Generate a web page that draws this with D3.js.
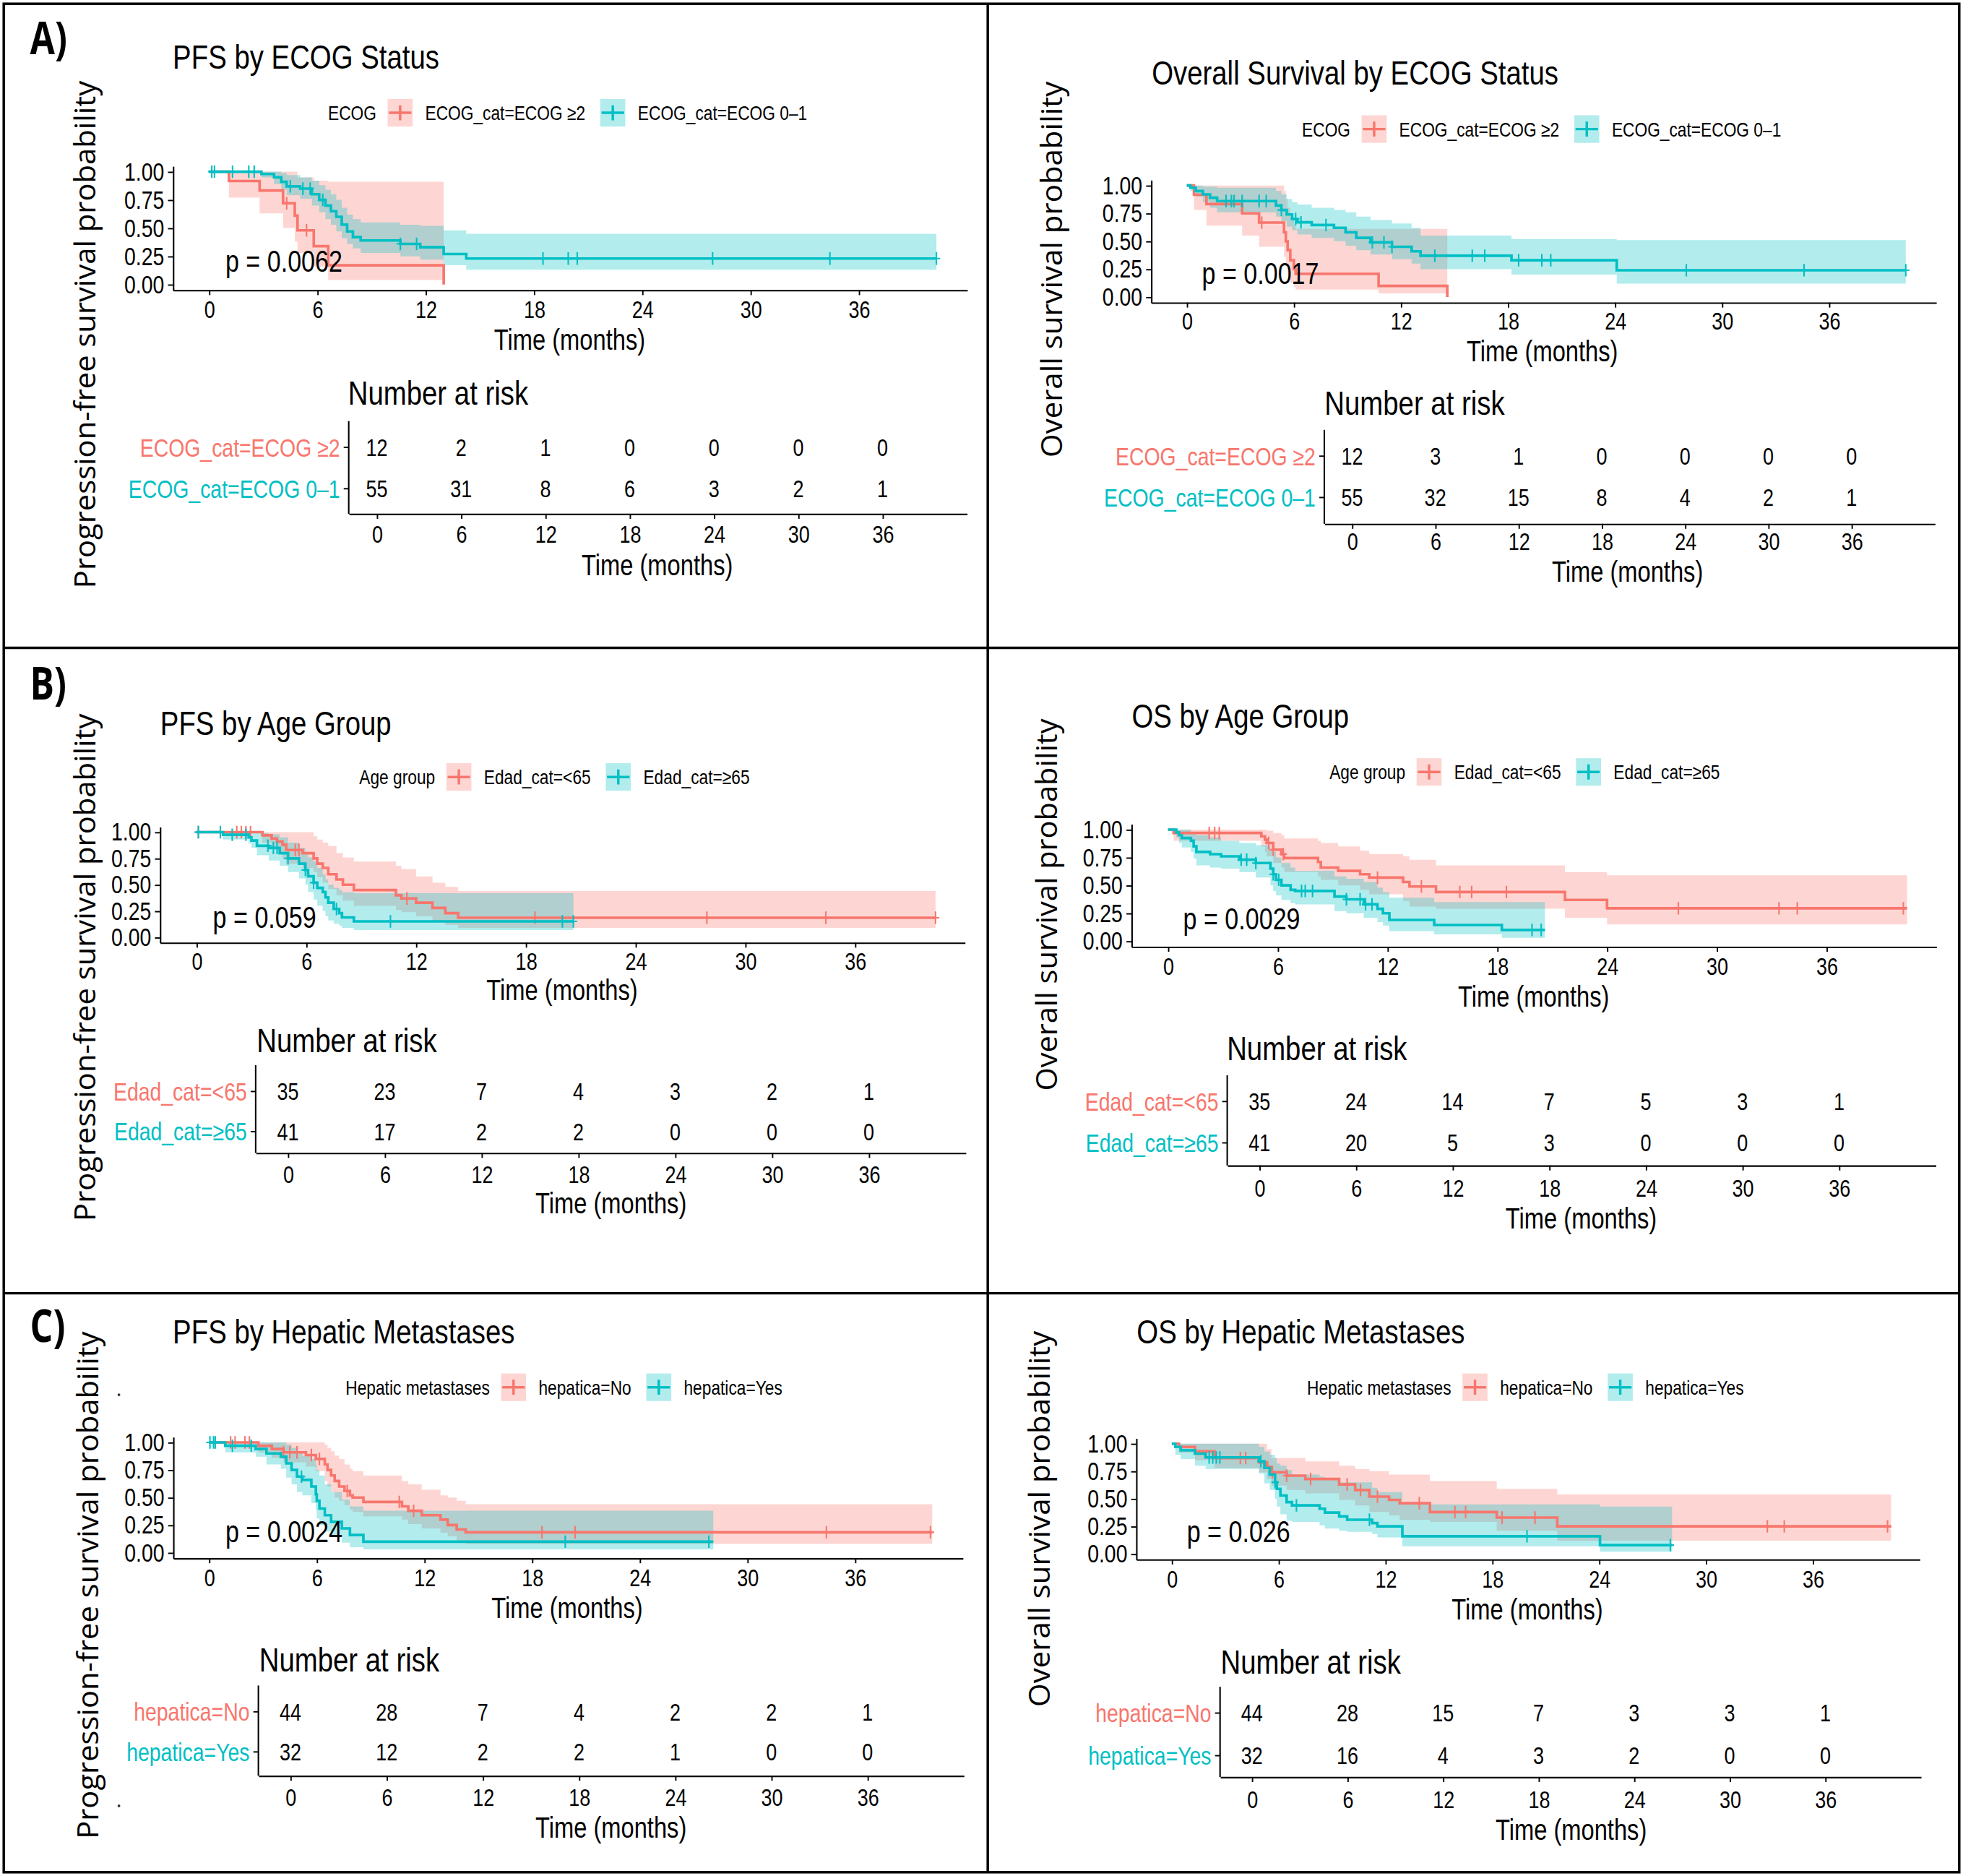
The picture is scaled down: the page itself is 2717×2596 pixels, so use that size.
<!DOCTYPE html>
<html>
<head>
<meta charset="utf-8">
<script src="https://cdn.jsdelivr.net/npm/d3@7"></script>
<style>
  body { margin: 0; background: #fff; }
  text { font-family: "Liberation Sans", Arial, sans-serif; fill: #000; }
</style>
</head>
<body>
<script>
// ---- data: each row is [time, survival, lower CI, upper CI] ----
const pfsEcogHi = [[0,1,1,1],[1.1,0.917,0.77,1],[2.8,0.833,0.63,1],[4.1,0.72,0.50,1],[4.75,0.61,0.38,1],
  [4.9,0.48,0.28,0.95],[5.8,0.34,0.16,0.92],[6.6,0.17,0.04,0.91],[13.0,0,null,null]];
const pfsEcogHiCens = [4.3, 5.4];
const pfsEcogLo = [[0,1,1,1],[2.9,0.98,0.95,1],[3.6,0.95,0.89,1],[4.0,0.91,0.84,0.99],[4.3,0.87,0.79,0.97],
  [5.05,0.85,0.76,0.95],[5.7,0.80,0.70,0.92],[6.1,0.75,0.64,0.88],[6.45,0.70,0.58,0.84],[6.75,0.65,0.53,0.80],
  [7.05,0.60,0.47,0.75],[7.35,0.53,0.41,0.68],[7.65,0.47,0.36,0.62],[7.97,0.42,0.32,0.58],[8.4,0.39,0.28,0.55],
  [10.6,0.36,0.25,0.53],[11.7,0.33,0.22,0.52],[13.0,0.27,0.17,0.48],[14.25,0.23,0.13,0.45],[40.3,0.23,0.13,0.45]];
const pfsEcogLoCens = [0.15,0.3,1.3,2.2,2.5,4.5,5.2,5.6,6.3,10.6,11.5,18.5,19.9,20.4,27.9,34.4,40.3];

const osEcogHi = [[0,1,1,1],[0.4,0.917,0.78,1],[1.1,0.833,0.64,1],[3.1,0.75,0.55,1],[4.05,0.667,0.45,1],
  [5.45,0.58,0.36,0.95],[5.55,0.5,0.28,0.88],[5.65,0.42,0.2,0.8],[5.8,0.33,0.13,0.72],[6.0,0.25,0.09,0.65],
  [6.1,0.207,0.066,0.61],[10.75,0.10,0.033,0.61],[14.6,0,null,null]];
const osEcogHiCens = [4.2];
const osEcogLo = [[0,1,1,1],[0.2,0.98,0.95,1],[0.5,0.95,0.9,1],[0.9,0.92,0.85,0.99],[1.3,0.89,0.80,0.99],
  [1.7,0.86,0.76,0.98],[5.0,0.82,0.72,0.95],[5.3,0.78,0.68,0.92],[5.6,0.74,0.63,0.88],[5.9,0.70,0.60,0.85],
  [6.2,0.67,0.56,0.83],[7.0,0.645,0.53,0.80],[8.25,0.62,0.50,0.78],[8.9,0.58,0.46,0.76],[9.5,0.53,0.42,0.72],
  [10.3,0.49,0.38,0.69],[11.5,0.45,0.34,0.66],[12.6,0.41,0.30,0.62],[13.1,0.37,0.25,0.55],[18.2,0.33,0.20,0.52],
  [24.1,0.24,0.12,0.51],[40.3,0.24,0.12,0.51]];
const osEcogLoCens = [2.2,2.5,2.65,3.1,4.05,4.45,5.3,6.1,6.4,7.8,10.4,11.05,11.5,13.9,16.0,16.7,18.6,19.9,20.4,28.0,34.6,40.3];

const pfsAgeLo = [[0,1,1,1],[3.6,0.97,0.9,1],[4.1,0.94,0.85,1],[4.4,0.91,0.8,1],[4.7,0.88,0.74,1],
  [4.9,0.83,0.7,1],[5.8,0.80,0.66,1],[6.4,0.75,0.62,0.96],[6.6,0.70,0.57,0.93],[6.9,0.66,0.52,0.9],
  [7.2,0.60,0.46,0.87],[7.65,0.55,0.40,0.80],[8.0,0.50,0.35,0.76],[8.6,0.45,0.30,0.72],[10.9,0.40,0.26,0.68],
  [11.2,0.37,0.24,0.65],[12.0,0.33,0.20,0.58],[12.9,0.28,0.15,0.52],[13.6,0.23,0.12,0.48],[14.3,0.186,0.09,0.44],
  [40.4,0.186,0.09,0.44]];
const pfsAgeLoCens = [0.1,2.2,2.45,2.7,2.95,5.4,5.6,11.5,18.5,27.9,34.4,40.4];
const pfsAgeHi = [[0,1,1,1],[1.45,0.975,0.93,1],[2.85,0.95,0.89,1],[3.0,0.92,0.85,1],[3.3,0.87,0.78,0.99],
  [3.95,0.85,0.73,0.98],[4.55,0.80,0.68,0.95],[5.0,0.75,0.62,0.9],[5.6,0.70,0.56,0.85],[5.95,0.64,0.50,0.80],
  [6.1,0.58,0.43,0.76],[6.4,0.52,0.36,0.72],[6.6,0.47,0.30,0.66],[6.9,0.43,0.25,0.60],[7.05,0.38,0.20,0.55],
  [7.2,0.33,0.16,0.50],[7.5,0.27,0.13,0.47],[7.8,0.23,0.11,0.45],[7.95,0.19,0.09,0.43],[8.6,0.152,0.07,0.42],
  [20.6,0.152,0.07,0.42]];
const pfsAgeHiCens = [0.1,1.3,1.95,2.7,3.9,4.2,4.4,5.0,5.95,6.4,7.65,10.6,20.0,20.6];

const osAgeLo = [[0,1,1,1],[0.3,0.97,0.9,1],[5.1,0.94,0.85,1],[5.3,0.91,0.8,1],[5.4,0.88,0.76,0.99],
  [5.75,0.82,0.70,0.97],[6.2,0.78,0.66,0.95],[6.35,0.745,0.62,0.92],[8.2,0.71,0.58,0.90],[8.35,0.66,0.55,0.88],
  [9.3,0.63,0.50,0.85],[10.5,0.60,0.46,0.81],[11.0,0.57,0.42,0.78],[12.85,0.53,0.36,0.76],[13.2,0.49,0.31,0.73],
  [14.65,0.44,0.29,0.68],[21.7,0.37,0.21,0.62],[24.0,0.295,0.15,0.59],[40.4,0.295,0.15,0.59]];
const osAgeLoCens = [2.25,2.55,2.8,5.5,5.75,6.3,11.45,13.85,15.95,16.6,18.5,27.9,33.4,34.4,40.2];
const osAgeHi = [[0,1,1,1],[0.45,0.975,0.93,1],[0.6,0.95,0.88,1],[0.75,0.925,0.84,1],[1.25,0.9,0.8,0.98],
  [1.4,0.85,0.74,0.96],[1.55,0.8,0.68,0.95],[2.3,0.78,0.66,0.93],[2.9,0.76,0.65,0.90],[3.9,0.73,0.62,0.88],
  [4.8,0.70,0.57,0.86],[5.6,0.65,0.50,0.82],[5.75,0.60,0.45,0.80],[5.9,0.55,0.41,0.75],[6.2,0.50,0.37,0.70],
  [6.7,0.46,0.34,0.66],[6.95,0.45,0.33,0.63],[9.1,0.40,0.27,0.58],[9.75,0.375,0.25,0.56],[10.7,0.33,0.21,0.53],
  [11.45,0.29,0.17,0.48],[11.75,0.25,0.14,0.44],[12.1,0.19,0.09,0.39],[14.55,0.145,0.06,0.35],[18.25,0.10,0.03,0.35],
  [20.6,0.10,0.03,0.35]];
const osAgeHiCens = [4.0,4.3,4.8,5.75,6.05,7.3,7.5,7.9,9.75,10.5,10.8,11.15,19.9,20.4];

const pfsHepNo = [[0,1,1,1],[2.75,0.97,0.91,1],[3.5,0.94,0.86,1],[4.15,0.91,0.82,1],[5.4,0.885,0.78,1],
  [5.95,0.85,0.74,1],[6.45,0.80,0.65,0.98],[6.6,0.75,0.60,0.95],[6.8,0.70,0.55,0.92],[7.0,0.65,0.50,0.88],
  [7.25,0.60,0.47,0.85],[7.55,0.56,0.43,0.80],[7.85,0.52,0.39,0.76],[8.0,0.50,0.37,0.74],[8.6,0.46,0.33,0.70],
  [10.75,0.42,0.30,0.65],[11.1,0.38,0.26,0.62],[11.85,0.34,0.22,0.57],[12.9,0.30,0.18,0.52],[13.3,0.25,0.15,0.50],
  [13.8,0.21,0.11,0.47],[14.3,0.185,0.08,0.44],[40.3,0.185,0.08,0.44]];
const pfsHepNoCens = [1.2,1.45,2.0,2.25,4.15,4.5,4.9,5.7,6.15,7.7,10.6,11.4,18.55,20.4,34.4,40.2];
const pfsHepYes = [[0,1,1,1],[0.9,0.97,0.91,1],[2.6,0.94,0.87,1],[3.2,0.90,0.80,1],[4.0,0.87,0.76,1],
  [4.3,0.81,0.68,0.98],[4.6,0.75,0.62,0.95],[4.9,0.69,0.55,0.92],[5.2,0.66,0.52,0.88],[5.7,0.60,0.45,0.85],
  [5.95,0.53,0.38,0.80],[6.0,0.47,0.31,0.75],[6.15,0.40,0.25,0.70],[6.45,0.34,0.19,0.62],[6.8,0.28,0.14,0.55],
  [7.4,0.22,0.09,0.48],[7.85,0.16,0.05,0.42],[8.6,0.10,0.03,0.38],[28.1,0.10,0.03,0.38]];
const pfsHepYesCens = [0.05,0.25,0.35,1.3,2.35,5.15,19.85,27.85];

const osHepNo = [[0,1,1,1],[0.4,0.97,0.92,1],[1.3,0.93,0.85,1],[2.4,0.87,0.78,1],[4.9,0.83,0.74,1],
  [5.35,0.79,0.68,0.95],[5.6,0.74,0.62,0.87],[6.45,0.71,0.58,0.87],[7.5,0.68,0.55,0.84],[9.4,0.63,0.49,0.80],
  [10.3,0.58,0.44,0.77],[11.1,0.52,0.38,0.75],[12.2,0.49,0.35,0.72],[12.8,0.46,0.31,0.72],[14.5,0.38,0.29,0.66],
  [18.25,0.33,0.21,0.59],[21.65,0.25,0.12,0.54],[40.4,0.25,0.12,0.54]];
const osHepNoCens = [3.85,4.15,5.65,6.45,7.8,9.85,10.6,11.55,13.9,15.9,16.5,18.55,20.4,33.45,34.4,40.2];
const osHepYes = [[0,1,1,1],[0.2,0.97,0.9,1],[0.5,0.94,0.86,1],[1.3,0.91,0.80,1],[1.9,0.875,0.77,1],
  [4.9,0.84,0.73,0.97],[5.2,0.78,0.64,0.93],[5.5,0.72,0.58,0.90],[5.8,0.65,0.50,0.87],[5.9,0.59,0.43,0.82],
  [6.1,0.53,0.36,0.80],[6.45,0.47,0.30,0.76],[6.75,0.44,0.29,0.72],[8.3,0.41,0.26,0.70],[8.6,0.375,0.23,0.68],
  [9.4,0.34,0.21,0.65],[9.85,0.31,0.20,0.65],[11.25,0.28,0.18,0.60],[11.55,0.25,0.15,0.56],[12.95,0.16,0.07,0.45],
  [24.05,0.08,0.02,0.43],[28.1,0.08,0.02,0.43]];
const osHepYesCens = [2.1,2.3,2.5,2.7,5.0,5.8,7.0,11.1,19.95,28.0];

// number at risk at 0,6,...,36 months
const riskTimes = [0, 6, 12, 18, 24, 30, 36];
const riskPfsEcog = [[12,2,1,0,0,0,0],[55,31,8,6,3,2,1]];
const riskOsEcog  = [[12,3,1,0,0,0,0],[55,32,15,8,4,2,1]];
const riskPfsAge  = [[35,23,7,4,3,2,1],[41,17,2,2,0,0,0]];
const riskOsAge   = [[35,24,14,7,5,3,1],[41,20,5,3,0,0,0]];
const riskPfsHep  = [[44,28,7,4,2,2,1],[32,12,2,2,1,0,0]];
const riskOsHep   = [[44,28,15,7,3,3,1],[32,16,4,3,2,0,0]];

const xTicks = [0, 6, 12, 18, 24, 30, 36];
const yTicks = [0, 0.25, 0.5, 0.75, 1];
const groupsEcog = ["ECOG_cat=ECOG \u22652", "ECOG_cat=ECOG 0\u20131"];
const groupsAge = ["Edad_cat=<65", "Edad_cat=\u226565"];
const groupsHep = ["hepatica=No", "hepatica=Yes"];
const colors = ["#F8766D", "#00BFC4"];

const panels = [
  {title: "PFS by ECOG Status", legendTitle: "ECOG", groups: groupsEcog, curves: [pfsEcogHi, pfsEcogLo],
   cens: [pfsEcogHiCens, pfsEcogLoCens], risk: riskPfsEcog, p: "p = 0.0062", ylab: "Progression-free survival probability"},
  {title: "Overall Survival by ECOG Status", legendTitle: "ECOG", groups: groupsEcog, curves: [osEcogHi, osEcogLo],
   cens: [osEcogHiCens, osEcogLoCens], risk: riskOsEcog, p: "p = 0.0017", ylab: "Overall survival probability"},
  {title: "PFS by Age Group", legendTitle: "Age group", groups: groupsAge, curves: [pfsAgeLo, pfsAgeHi],
   cens: [pfsAgeLoCens, pfsAgeHiCens], risk: riskPfsAge, p: "p = 0.059", ylab: "Progression-free survival probability"},
  {title: "OS by Age Group", legendTitle: "Age group", groups: groupsAge, curves: [osAgeLo, osAgeHi],
   cens: [osAgeLoCens, osAgeHiCens], risk: riskOsAge, p: "p = 0.0029", ylab: "Overall survival probability"},
  {title: "PFS by Hepatic Metastases", legendTitle: "Hepatic metastases", groups: groupsHep, curves: [pfsHepNo, pfsHepYes],
   cens: [pfsHepNoCens, pfsHepYesCens], risk: riskPfsHep, p: "p = 0.0024", ylab: "Progression-free survival probability"},
  {title: "OS by Hepatic Metastases", legendTitle: "Hepatic metastases", groups: groupsHep, curves: [osHepNo, osHepYes],
   cens: [osHepNoCens, osHepYesCens], risk: riskOsHep, p: "p = 0.026", ylab: "Overall survival probability"}
];

// ---- layout (viewBox units) ----
const layouts = [
  {tx:138, ty:45, lx:262, ly:90, yx:68, yy:267, yl:405, p0:167, p36:686, y1:137, y0:227, px:180, py:208, tly:247, xlx:455, xly:271,
   rtx:278, rty:313, r0:301, r36:705, ra:357, rb:390, rax:410, rtly:426, rxlx:525, rxly:451},
  {tx:920, ty:58, lx:1040, ly:103, yx:840, yy:215, yl:300, p0:948, p36:1461, y1:148, y0:237, px:960, py:218, tly:256, xlx:1232, xly:280,
   rtx:1058, rty:321, r0:1080, r36:1479, ra:364, rb:397, rax:418, rtly:432, rxlx:1300, rxly:456},
  {tx:128, ty:577, lx:287, ly:620, yx:68, yy:772, yl:405, p0:157, p36:683, y1:664, y0:748, px:170, py:732, tly:767, xlx:449, xly:790,
   rtx:205, rty:830, r0:230, r36:694, ra:871, rb:903, rax:920, rtly:937, rxlx:488, rxly:960},
  {tx:904, ty:571, lx:1062, ly:616, yx:836, yy:722, yl:297, p0:933, p36:1459, y1:662, y0:751, px:945, py:733, tly:771, xlx:1225, xly:795,
   rtx:980, rty:836, r0:1006, r36:1469, ra:879, rb:912, rax:930, rtly:948, rxlx:1263, rxly:972},
  {tx:138, ty:1062, lx:276, ly:1107, yx:70, yy:1265, yl:405, p0:167, p36:683, y1:1151, y0:1239, px:180, py:1222, tly:1259, xlx:453, xly:1283,
   rtx:207, rty:1324, r0:232, r36:693, ra:1366, rb:1398, rax:1417, rtly:1434, rxlx:488, rxly:1458},
  {tx:908, ty:1062, lx:1044, ly:1107, yx:830, yy:1212, yl:300, p0:936, p36:1448, y1:1152, y0:1240, px:948, py:1222, tly:1260, xlx:1220, xly:1284,
   rtx:975, rty:1326, r0:1000, r36:1458, ra:1367, rb:1401, rax:1418, rtly:1436, rxlx:1255, rxly:1460}
];

const W = 1568, H = 1497;
const NARROW = 0.82;   // Arial Narrow look from a regular sans
const svg = d3.select("body").append("svg")
  .attr("width", 2717).attr("height", 2596)
  .attr("viewBox", `0 0 ${W} ${H}`)
  .attr("preserveAspectRatio", "none");
svg.append("rect").attr("width", W).attr("height", H).attr("fill", "#fff");

// narrow text: squeezed by a transform, returns its width
function label(g, x, y, size, txt, anchor = "start", fill = "#000") {
  const t = g.append("text")
    .attr("transform", `translate(${x},${y}) scale(${NARROW},1)`)
    .attr("dy", "0.36em").attr("font-size", size).attr("text-anchor", anchor)
    .style("fill", fill).text(txt);
  return t.node().getComputedTextLength() * NARROW;
}

// frame
const frame = svg.append("g").attr("stroke", "#000").attr("stroke-width", 2).attr("fill", "none");
frame.append("rect").attr("x", 3).attr("y", 3).attr("width", 1562).attr("height", 1491);
frame.append("line").attr("x1", 789).attr("x2", 789).attr("y1", 3).attr("y2", 1494);
frame.append("line").attr("x1", 3).attr("x2", 1565).attr("y1", 517).attr("y2", 517);
frame.append("line").attr("x1", 3).attr("x2", 1565).attr("y1", 1032).attr("y2", 1032);

// panel letters
[["A)", 30], ["B)", 545], ["C)", 1058]].forEach(([s, y]) => {
  svg.append("text").attr("transform", `translate(24,${y}) scale(0.8,1)`).attr("dy", "0.36em")
    .style("font-family", "'Open Sans', sans-serif").attr("font-weight", 700)
    .attr("font-size", 36).text(s);
});
// stray dots of the original figure
[[95, 1113], [95, 1441]].forEach(([cx, cy]) => {
  svg.append("circle").attr("cx", cx).attr("cy", cy).attr("r", 1.1).attr("fill", "#333");
});

function survAt(rows, t) {
  let s = rows[0][1];
  rows.forEach(r => { if (r[0] <= t) s = r[1]; });
  return s;
}

function styleAxis(g, size, left) {
  g.select(".domain").attr("stroke", "#000").attr("stroke-width", 1.2);
  g.selectAll(".tick line").attr("stroke", "#000").attr("stroke-width", 1.1);
  g.selectAll(".tick text").attr("font-size", size).attr("fill", "#000")
    .style("font-family", "'Liberation Sans', Arial, sans-serif");
  if (left) {
    g.selectAll(".tick text").attr("x", -7 / NARROW).attr("transform", `scale(${NARROW},1)`);
  } else {
    g.selectAll(".tick text").attr("transform", `scale(${NARROW},1)`);
  }
}

function drawPanel(D, L) {
  const g = svg.append("g");

  label(g, L.tx, L.ty, 27, D.title);

  // legend
  let cx = L.lx;
  cx += label(g, cx, L.ly, 16, D.legendTitle) + 9;
  D.groups.forEach((name, i) => {
    g.append("rect").attr("x", cx).attr("y", L.ly - 11).attr("width", 20).attr("height", 22)
      .attr("fill", colors[i]).attr("fill-opacity", 0.3);
    g.append("path").attr("d", `M${cx + 1},${L.ly}H${cx + 19}M${cx + 10},${L.ly - 6}V${L.ly + 6}`)
      .attr("stroke", colors[i]).attr("stroke-width", 2).attr("fill", "none");
    cx += 30;
    cx += label(g, cx, L.ly, 16, name) + 12;
  });

  // y label
  g.append("text").attr("transform", `translate(${L.yx},${L.yy}) rotate(-90)`)
    .attr("text-anchor", "middle").attr("dy", "0.36em")
    .style("font-family", "'Open Sans', sans-serif").attr("font-size", 23)
    .attr("textLength", L.yl).attr("lengthAdjust", "spacingAndGlyphs").text(D.ylab);

  // survival plot scales
  const k = (L.p36 - L.p0) / 36;
  const x = d3.scaleLinear().domain([-2, 42]).range([L.p0 - 2 * k, L.p0 + 42 * k]);
  const u = (L.y0 - L.y1);
  const y = d3.scaleLinear().domain([-0.05, 1.05]).range([L.y0 + 0.05 * u, L.y1 - 0.05 * u]);

  const band = d3.area().curve(d3.curveStepAfter)
    .x(d => x(d[0])).y0(d => y(d[2])).y1(d => y(d[3]));
  const line = d3.line().curve(d3.curveStepAfter).x(d => x(d[0])).y(d => y(d[1]));

  D.curves.forEach((rows, i) => {
    const bandRows = rows.filter(r => r[2] !== null);
    const last = rows[rows.length - 1];
    if (last[2] === null) {
      const b = bandRows[bandRows.length - 1];
      bandRows.push([last[0], b[1], b[2], b[3]]);
    }
    g.append("path").datum(bandRows).attr("d", band).attr("fill", colors[i]).attr("fill-opacity", 0.3);
  });
  D.curves.forEach((rows, i) => {
    g.append("path").datum(rows).attr("d", line).attr("fill", "none")
      .attr("stroke", colors[i]).attr("stroke-width", 2.1);
    g.selectAll(null).data(D.cens[i]).join("path")
      .attr("d", t => {
        const px = x(t), py = y(survAt(rows, t));
        return `M${px - 3},${py}H${px + 3}M${px},${py - 5}V${py + 5}`;
      })
      .attr("stroke", colors[i]).attr("stroke-width", 1.2).attr("fill", "none");
  });

  const ax = g.append("g").attr("transform", `translate(0,${y(-0.05)})`)
    .call(d3.axisBottom(x).tickValues(xTicks).tickSize(4).tickSizeOuter(0).tickPadding(4));
  ax.selectAll(".tick text").attr("y", L.tly - y(-0.05)).attr("dy", "0.36em");
  styleAxis(ax, 19, false);
  const ay = g.append("g").attr("transform", `translate(${x(-2)},0)`)
    .call(d3.axisLeft(y).tickValues(yTicks).tickFormat(d3.format(".2f")).tickSize(4).tickSizeOuter(0).tickPadding(3));
  styleAxis(ay, 20, true);

  label(g, L.px, L.py, 24, D.p);
  label(g, L.xlx, L.xly, 23, "Time (months)", "middle");

  // risk table
  const kr = (L.r36 - L.r0) / 36;
  const xr = d3.scaleLinear().domain([-2, 42]).range([L.r0 - 2 * kr, L.r0 + 42 * kr]);
  const rowsY = [L.ra, L.rb];
  label(g, L.rtx, L.rty, 27, "Number at risk");

  const top = L.ra - 21;
  g.append("line").attr("x1", xr(-2)).attr("x2", xr(-2)).attr("y1", top).attr("y2", L.rax)
    .attr("stroke", "#000").attr("stroke-width", 1.2);
  rowsY.forEach((ry, i) => {
    g.append("line").attr("x1", xr(-2) - 4).attr("x2", xr(-2)).attr("y1", ry).attr("y2", ry)
      .attr("stroke", "#000").attr("stroke-width", 1.1);
    label(g, xr(-2) - 7, ry, 20, D.groups[i], "end", colors[i]);
    D.risk[i].forEach((n, j) => label(g, xr(riskTimes[j]), ry, 19, String(n), "middle"));
  });
  const rx = g.append("g").attr("transform", `translate(0,${L.rax})`)
    .call(d3.axisBottom(xr).tickValues(xTicks).tickSize(4).tickSizeOuter(0));
  rx.selectAll(".tick text").attr("y", L.rtly - L.rax).attr("dy", "0.36em");
  styleAxis(rx, 19, false);
  label(g, L.rxlx, L.rxly, 23, "Time (months)", "middle");
}

panels.forEach((D, i) => drawPanel(D, layouts[i]));
</script>
</body>
</html>
